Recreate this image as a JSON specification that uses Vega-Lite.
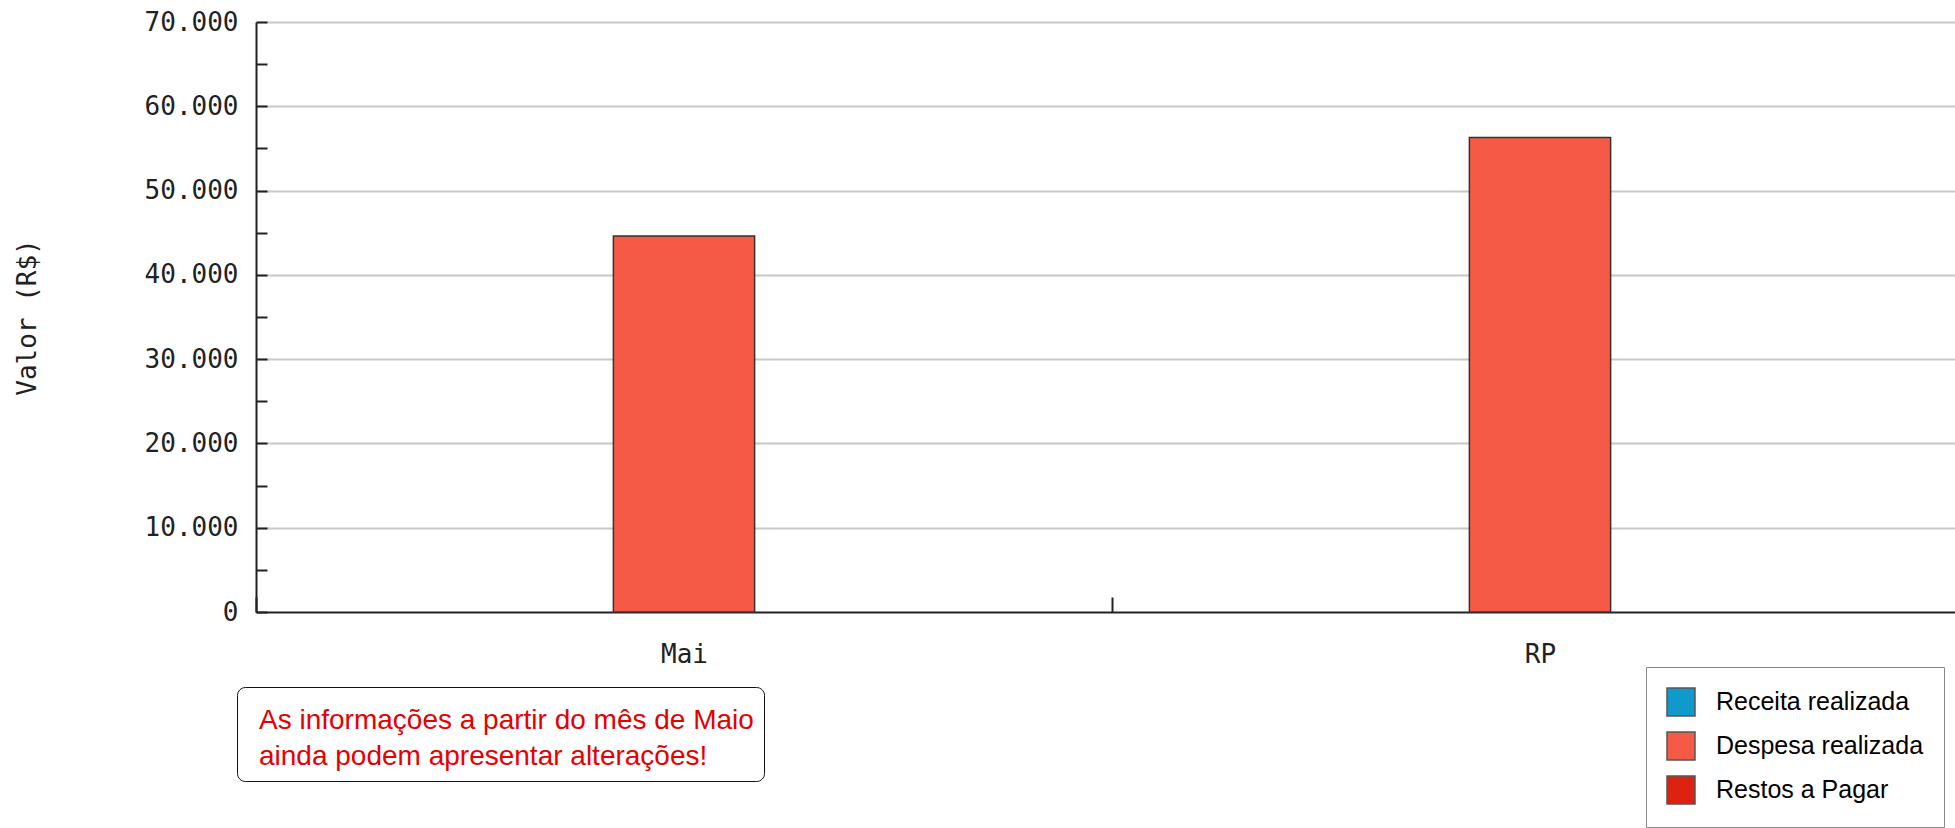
{
  "$schema": "https://vega.github.io/schema/vega-lite/v6.json",
  "width": 1699,
  "height": 590,
  "autosize": {"type": "none"},
  "padding": {"left": 256, "top": 22, "right": 0, "bottom": 216},
  "background": "white",
  "config": {
    "view": {"stroke": null},
    "axis": {
      "labelFont": "DejaVu Sans Mono",
      "labelFontSize": 26,
      "labelColor": "#222222",
      "titleFont": "DejaVu Sans Mono",
      "titleFontSize": 26,
      "titleFontWeight": "normal",
      "titleColor": "#222222",
      "domainColor": "#222222",
      "domainWidth": 2,
      "tickColor": "#222222",
      "tickWidth": 2
    }
  },
  "layer": [
    {
      "data": {
        "values": [
          {"categoria": "Mai", "serie": "Despesa realizada", "valor": 44600},
          {"categoria": "RP", "serie": "Despesa realizada", "valor": 56300}
        ]
      },
      "mark": {"type": "bar", "stroke": "#333333", "strokeWidth": 1.5, "width": {"band": 0.165}},
      "encoding": {
        "x": {
          "field": "categoria",
          "type": "nominal",
          "sort": ["Mai", "RP"],
          "scale": {"range": [0, 1712], "paddingInner": 0, "paddingOuter": 0},
          "axis": {
            "title": null,
            "labelAngle": 0,
            "tickBand": "extent",
            "tickSize": -15,
            "labelPadding": 44,
            "grid": false
          }
        },
        "y": {
          "field": "valor",
          "type": "quantitative",
          "scale": {"domain": [0, 70000], "nice": false, "zero": true},
          "axis": {
            "title": "Valor (R$)",
            "values": [0, 5000, 10000, 15000, 20000, 25000, 30000, 35000, 40000, 45000, 50000, 55000, 60000, 65000, 70000],
            "labelExpr": "datum.value % 10000 === 0 ? replace(format(datum.value, ',d'), ',', '.') : ''",
            "labelOverlap": false,
            "labelBaseline": "middle",
            "tickSize": -11,
            "labelPadding": 29,
            "grid": true,
            "gridColor": {"condition": {"test": "datum.value % 10000 === 0 && datum.value > 0", "value": "#c8c8c8"}, "value": "transparent"},
            "gridWidth": 2,
            "titleX": -229,
            "titleY": 295,
            "titleAngle": 270,
            "titleAlign": "center",
            "titleBaseline": "middle"
          }
        },
        "color": {
          "field": "serie",
          "type": "nominal",
          "scale": {
            "domain": ["Receita realizada", "Despesa realizada", "Restos a Pagar"],
            "range": ["#1199cc", "#f55a46", "#dd2211"]
          },
          "legend": {
            "orient": "none",
            "legendX": 1390,
            "legendY": 645,
            "title": null,
            "symbolType": "square",
            "symbolSize": 784,
            "symbolStrokeColor": "#555555",
            "symbolStrokeWidth": 1.5,
            "symbolOpacity": 1,
            "labelFont": "Liberation Sans",
            "labelFontSize": 25,
            "labelColor": "#000000",
            "labelOffset": 20,
            "labelLimit": 0,
            "rowPadding": 10,
            "padding": 20,
            "strokeColor": "#888888",
            "fillColor": "white"
          }
        }
      }
    },
    {
      "data": {
        "values": [
          {"nota": "As informações a partir do mês de Maio"},
          {"nota": "ainda podem apresentar alterações!"}
        ]
      },
      "mark": {"type": "point", "opacity": 0},
      "encoding": {
        "shape": {
          "field": "nota",
          "type": "nominal",
          "scale": {
            "domain": ["As informações a partir do mês de Maio", "ainda podem apresentar alterações!"],
            "range": ["square", "circle"]
          },
          "legend": {
            "orient": "none",
            "legendX": -19,
            "legendY": 665,
            "title": " ",
            "titleFontSize": 10,
            "titlePadding": 0,
            "symbolSize": 1,
            "symbolOpacity": 0,
            "symbolStrokeWidth": 0,
            "labelOffset": -16,
            "labelFont": "Liberation Sans",
            "labelFontSize": 28,
            "labelColor": "#e60000",
            "labelLimit": 0,
            "rowPadding": 8,
            "padding": 10,
            "cornerRadius": 8,
            "strokeColor": "#111111",
            "fillColor": "white"
          }
        }
      }
    }
  ]
}
